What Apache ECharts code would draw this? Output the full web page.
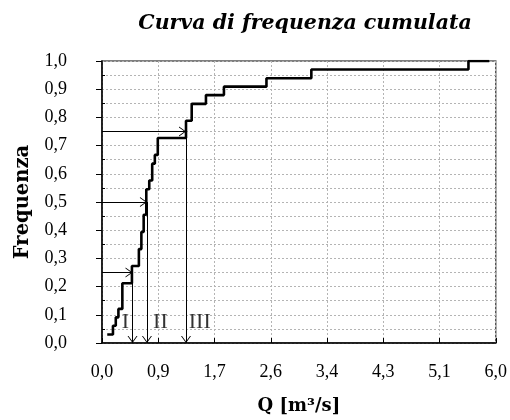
<!DOCTYPE html>
<html>
<head>
<meta charset="utf-8">
<script src="https://cdn.jsdelivr.net/npm/echarts@6/dist/echarts.min.js"></script>
<style>html,body{margin:0;padding:0;background:#fff}#c{width:510px;height:420px}</style>
</head>
<body>
<div id="c"></div>
<script>
// Cumulative frequency step curve (Q in m3/s, cumulative frequency)
var qValues    = [0.08, 0.167, 0.21, 0.25, 0.31, 0.456, 0.562, 0.60, 0.635, 0.675, 0.72, 0.765, 0.805, 0.85, 1.28, 1.367, 1.584, 1.858, 2.506, 3.19, 5.584, 5.90];
var freqValues = [0.030, 0.061, 0.091, 0.121, 0.212, 0.273, 0.333, 0.394, 0.455, 0.545, 0.576, 0.636, 0.667, 0.727, 0.788, 0.848, 0.879, 0.909, 0.939, 0.970, 1.000, 1.000];
// Quartile construction arrows
var probLevels = [0.25, 0.5, 0.75];
var quartileQ  = [0.465, 0.685, 1.28];
// Zone labels
var zoneNames = ['I', 'II', 'III'];
var zoneX     = [0.355, 0.89, 1.49];
var zoneY     = [0.075, 0.075, 0.075];
// Axis ticks
var xTickCount = 7;
var xMax = 6.0;
var yStep = 0.1;

var curve = qValues.map(function (q, i) { return [q, freqValues[i]]; });
var chevron = 'path://M0,7 L5,0 L10,7 L9,7 L5,1.4 L1,7 Z';
var arrowLines = [];
probLevels.forEach(function (p, i) {
  arrowLines.push([{coord: [0, p]}, {coord: [quartileQ[i], p]}]);
  arrowLines.push([{coord: [quartileQ[i], p]}, {coord: [quartileQ[i], 0]}]);
});
var zoneData = zoneNames.map(function (n, i) { return {name: n, value: [zoneX[i], zoneY[i]]}; });

function fmt(v) { return (Math.round(v * 10) / 10).toFixed(1).replace('.', ','); }

var chart = echarts.init(document.getElementById('c'), null, {renderer: 'canvas'});
chart.setOption({
  animation: false,
  backgroundColor: '#fff',
  title: {
    text: 'Curva di frequenza cumulata',
    left: 300, top: 9, textAlign: 'center',
    textStyle: {fontFamily: 'DejaVu Serif', fontStyle: 'italic', fontWeight: 'bold', fontSize: 20.5, color: '#000'}
  },
  grid: {left: 102, right: 13, top: 61, bottom: 74, show: true, borderColor: '#555', borderWidth: 1.5},
  xAxis: {
    type: 'value', min: 0, max: xMax, interval: xMax / xTickCount,
    name: 'Q [m³/s]', nameLocation: 'middle', nameGap: 54,
    nameTextStyle: {fontFamily: 'DejaVu Serif', fontWeight: 'bold', fontSize: 18, color: '#000'},
    axisLine: {show: true, onZero: false, lineStyle: {color: '#000', width: 1.5}},
    axisTick: {show: true, inside: true, length: 5, lineStyle: {color: '#000'}},
    axisLabel: {formatter: fmt, margin: 20, fontFamily: 'Liberation Serif', fontSize: 18, color: '#000', showMaxLabel: true},
    splitLine: {show: true, lineStyle: {color: '#b4b4b4', type: [2, 2], width: 1}}
  },
  yAxis: [{
    type: 'value', min: 0, max: 1, interval: yStep,
    name: 'Frequenza', nameLocation: 'middle', nameGap: 69, nameRotate: 90,
    nameTextStyle: {fontFamily: 'DejaVu Serif', fontWeight: 'bold', fontSize: 19.5, color: '#000'},
    axisLine: {show: true, onZero: false, lineStyle: {color: '#000', width: 1.5}},
    axisTick: {show: true, inside: false, length: 6, lineStyle: {color: '#000'}},
    axisLabel: {formatter: fmt, margin: 35, fontFamily: 'Liberation Serif', fontSize: 18, color: '#000'},
    splitLine: {show: true, lineStyle: {color: '#b4b4b4', type: [2, 2], width: 1}},
    minorSplitLine: {show: true, lineStyle: {color: '#b4b4b4', type: [2, 2], width: 1}},
    minorTick: {show: false, splitNumber: 2}
  }, {
    type: 'value', min: 0, max: 1, interval: yStep, position: 'left',
    axisLine: {show: false}, axisLabel: {show: false}, splitLine: {show: false},
    axisTick: {show: false, inside: true},
    minorTick: {show: true, splitNumber: 2, length: 3, lineStyle: {color: '#000'}}
  }],
  series: [{
    type: 'line', step: 'end', data: curve, showSymbol: false, symbol: 'none',
    lineStyle: {color: '#000', width: 2.6}, z: 5
  }, {
    type: 'line', data: [], symbol: 'none',
    markLine: {
      silent: true, animation: false,
      symbol: ['none', chevron], symbolSize: [10, 7], symbolOffset: [0, [0, 3.5]],
      lineStyle: {color: '#000', width: 1, type: 'solid'},
      label: {show: false},
      data: arrowLines
    }
  }, {
    type: 'scatter', data: zoneData, symbolSize: 1, itemStyle: {color: 'rgba(0,0,0,0)'},
    label: {show: true, position: 'inside', formatter: '{b}', fontFamily: 'Liberation Serif', fontSize: 22, color: '#000'},
    silent: true
  }]
});
</script>
</body>
</html>
